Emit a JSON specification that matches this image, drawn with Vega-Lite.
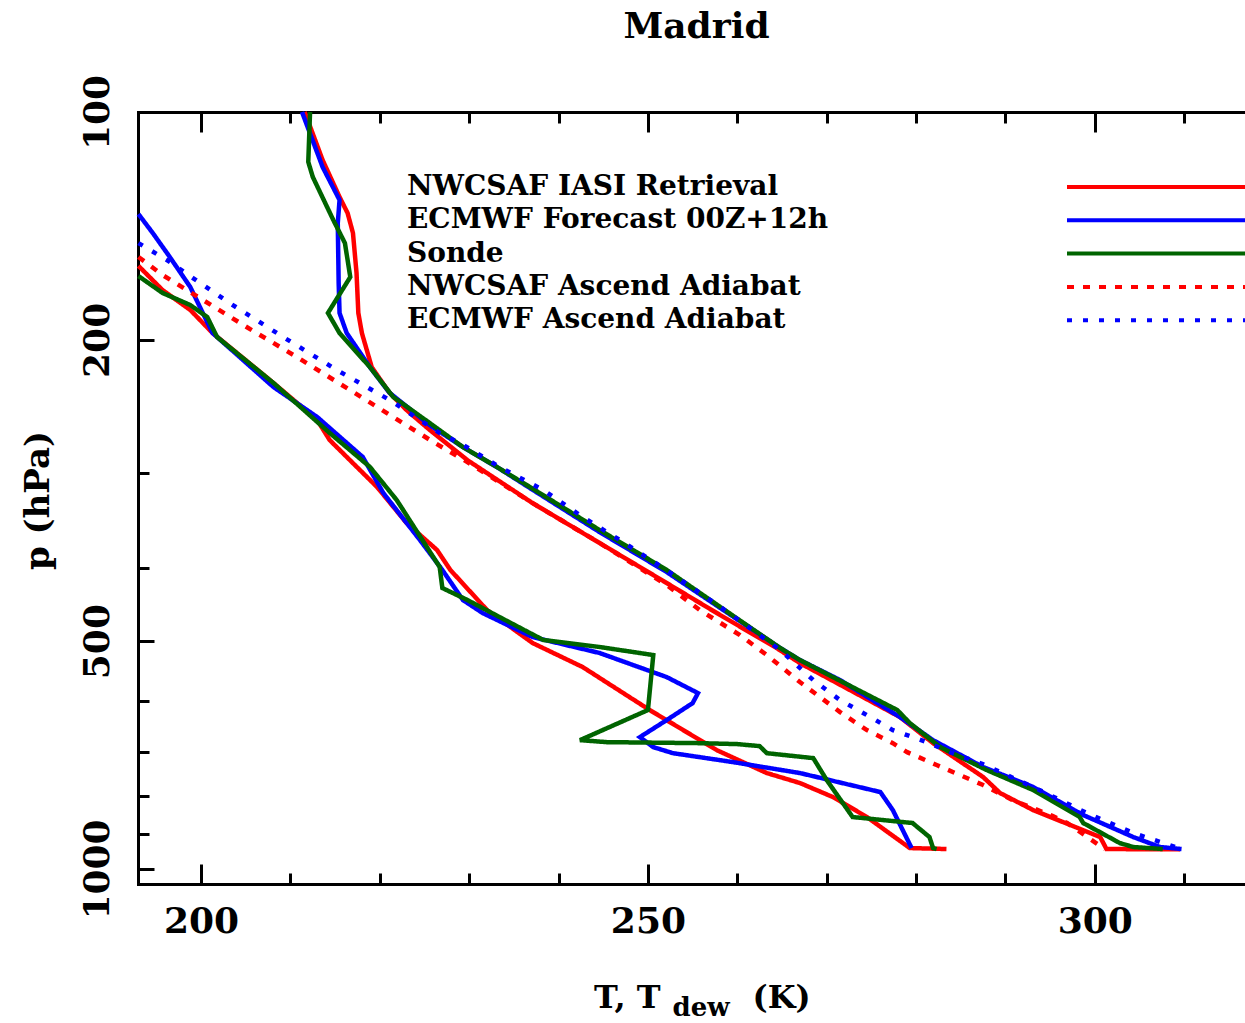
{
  "$schema": "https://vega.github.io/schema/vega-lite/v6.json",
  "width": 1107,
  "height": 772,
  "autosize": {"type": "none"},
  "padding": {"left": 138, "top": 112, "right": 0, "bottom": 139},
  "background": "white",
  "view": {"stroke": null},
  "title": {"text": "Madrid", "font": "DejaVu Serif", "fontWeight": "bold", "fontSize": 36, "color": "black", "anchor": "middle", "frame": "group", "baseline": "alphabetic", "offset": 0, "dx": 5},
  "data": {"values": [
    {"s": "NWCSAF IASI Retrieval", "v": "T", "T": 211.6, "p": 100},
    {"s": "NWCSAF IASI Retrieval", "v": "T", "T": 213.6, "p": 115.7},
    {"s": "NWCSAF IASI Retrieval", "v": "T", "T": 215.5, "p": 129.5},
    {"s": "NWCSAF IASI Retrieval", "v": "T", "T": 216.4, "p": 136.0},
    {"s": "NWCSAF IASI Retrieval", "v": "T", "T": 217.0, "p": 144.5},
    {"s": "NWCSAF IASI Retrieval", "v": "T", "T": 217.4, "p": 163.2},
    {"s": "NWCSAF IASI Retrieval", "v": "T", "T": 217.6, "p": 184.3},
    {"s": "NWCSAF IASI Retrieval", "v": "T", "T": 218.0, "p": 195.9},
    {"s": "NWCSAF IASI Retrieval", "v": "T", "T": 219.1, "p": 217.3},
    {"s": "NWCSAF IASI Retrieval", "v": "T", "T": 221.1, "p": 235.0},
    {"s": "NWCSAF IASI Retrieval", "v": "T", "T": 223.0, "p": 247.6},
    {"s": "NWCSAF IASI Retrieval", "v": "T", "T": 225.6, "p": 263.1},
    {"s": "NWCSAF IASI Retrieval", "v": "T", "T": 229.8, "p": 288.3},
    {"s": "NWCSAF IASI Retrieval", "v": "T", "T": 237.1, "p": 328.6},
    {"s": "NWCSAF IASI Retrieval", "v": "T", "T": 244.6, "p": 371.0},
    {"s": "NWCSAF IASI Retrieval", "v": "T", "T": 252.1, "p": 419.0},
    {"s": "NWCSAF IASI Retrieval", "v": "T", "T": 257.7, "p": 459.0},
    {"s": "NWCSAF IASI Retrieval", "v": "T", "T": 264.4, "p": 510.6},
    {"s": "NWCSAF IASI Retrieval", "v": "T", "T": 267.0, "p": 534.5},
    {"s": "NWCSAF IASI Retrieval", "v": "T", "T": 278.2, "p": 629.9},
    {"s": "NWCSAF IASI Retrieval", "v": "T", "T": 281.9, "p": 681.9},
    {"s": "NWCSAF IASI Retrieval", "v": "T", "T": 287.5, "p": 755.9},
    {"s": "NWCSAF IASI Retrieval", "v": "T", "T": 289.4, "p": 793.6},
    {"s": "NWCSAF IASI Retrieval", "v": "T", "T": 293.1, "p": 835.9},
    {"s": "NWCSAF IASI Retrieval", "v": "T", "T": 300.6, "p": 907.3},
    {"s": "NWCSAF IASI Retrieval", "v": "T", "T": 301.3, "p": 941},
    {"s": "NWCSAF IASI Retrieval", "v": "T", "T": 309.5, "p": 942},
    {"s": "NWCSAF IASI Retrieval", "v": "Td", "T": 193.0, "p": 159.7},
    {"s": "NWCSAF IASI Retrieval", "v": "Td", "T": 195.7, "p": 171.9},
    {"s": "NWCSAF IASI Retrieval", "v": "Td", "T": 198.8, "p": 182.6},
    {"s": "NWCSAF IASI Retrieval", "v": "Td", "T": 201.3, "p": 195.9},
    {"s": "NWCSAF IASI Retrieval", "v": "Td", "T": 208.1, "p": 228.0},
    {"s": "NWCSAF IASI Retrieval", "v": "Td", "T": 213.0, "p": 255.2},
    {"s": "NWCSAF IASI Retrieval", "v": "Td", "T": 214.4, "p": 271.3},
    {"s": "NWCSAF IASI Retrieval", "v": "Td", "T": 219.7, "p": 312.9},
    {"s": "NWCSAF IASI Retrieval", "v": "Td", "T": 223.0, "p": 349.1},
    {"s": "NWCSAF IASI Retrieval", "v": "Td", "T": 226.4, "p": 378.9},
    {"s": "NWCSAF IASI Retrieval", "v": "Td", "T": 227.9, "p": 402.7},
    {"s": "NWCSAF IASI Retrieval", "v": "Td", "T": 232.0, "p": 454.9},
    {"s": "NWCSAF IASI Retrieval", "v": "Td", "T": 237.1, "p": 502.9},
    {"s": "NWCSAF IASI Retrieval", "v": "Td", "T": 242.7, "p": 541.0},
    {"s": "NWCSAF IASI Retrieval", "v": "Td", "T": 250.2, "p": 616.6},
    {"s": "NWCSAF IASI Retrieval", "v": "Td", "T": 257.7, "p": 696.5},
    {"s": "NWCSAF IASI Retrieval", "v": "Td", "T": 263.3, "p": 746.8},
    {"s": "NWCSAF IASI Retrieval", "v": "Td", "T": 267.0, "p": 769.8},
    {"s": "NWCSAF IASI Retrieval", "v": "Td", "T": 270.7, "p": 803.4},
    {"s": "NWCSAF IASI Retrieval", "v": "Td", "T": 274.5, "p": 853.7},
    {"s": "NWCSAF IASI Retrieval", "v": "Td", "T": 279.3, "p": 938.2},
    {"s": "NWCSAF IASI Retrieval", "v": "Td", "T": 283.4, "p": 941},
    {"s": "ECMWF Forecast 00Z+12h", "v": "T", "T": 211.3, "p": 100},
    {"s": "ECMWF Forecast 00Z+12h", "v": "T", "T": 213.6, "p": 118.2},
    {"s": "ECMWF Forecast 00Z+12h", "v": "T", "T": 215.5, "p": 130.7},
    {"s": "ECMWF Forecast 00Z+12h", "v": "T", "T": 215.3, "p": 140.2},
    {"s": "ECMWF Forecast 00Z+12h", "v": "T", "T": 215.4, "p": 168.2},
    {"s": "ECMWF Forecast 00Z+12h", "v": "T", "T": 215.5, "p": 184.3},
    {"s": "ECMWF Forecast 00Z+12h", "v": "T", "T": 216.3, "p": 195.9},
    {"s": "ECMWF Forecast 00Z+12h", "v": "T", "T": 218.9, "p": 217.3},
    {"s": "ECMWF Forecast 00Z+12h", "v": "T", "T": 221.1, "p": 235.0},
    {"s": "ECMWF Forecast 00Z+12h", "v": "T", "T": 225.6, "p": 259.2},
    {"s": "ECMWF Forecast 00Z+12h", "v": "T", "T": 229.3, "p": 277.1},
    {"s": "ECMWF Forecast 00Z+12h", "v": "T", "T": 233.1, "p": 294.4},
    {"s": "ECMWF Forecast 00Z+12h", "v": "T", "T": 236.8, "p": 313.9},
    {"s": "ECMWF Forecast 00Z+12h", "v": "T", "T": 244.6, "p": 358.9},
    {"s": "ECMWF Forecast 00Z+12h", "v": "T", "T": 252.1, "p": 405.2},
    {"s": "ECMWF Forecast 00Z+12h", "v": "T", "T": 258.1, "p": 452.1},
    {"s": "ECMWF Forecast 00Z+12h", "v": "T", "T": 264.8, "p": 510.6},
    {"s": "ECMWF Forecast 00Z+12h", "v": "T", "T": 267.0, "p": 529.6},
    {"s": "ECMWF Forecast 00Z+12h", "v": "T", "T": 271.5, "p": 562.9},
    {"s": "ECMWF Forecast 00Z+12h", "v": "T", "T": 278.2, "p": 629.9},
    {"s": "ECMWF Forecast 00Z+12h", "v": "T", "T": 281.9, "p": 675.7},
    {"s": "ECMWF Forecast 00Z+12h", "v": "T", "T": 287.5, "p": 733.3},
    {"s": "ECMWF Forecast 00Z+12h", "v": "T", "T": 293.1, "p": 779.2},
    {"s": "ECMWF Forecast 00Z+12h", "v": "T", "T": 298.7, "p": 848.6},
    {"s": "ECMWF Forecast 00Z+12h", "v": "T", "T": 304.3, "p": 907.3},
    {"s": "ECMWF Forecast 00Z+12h", "v": "T", "T": 307.3, "p": 935.3},
    {"s": "ECMWF Forecast 00Z+12h", "v": "T", "T": 309.7, "p": 941},
    {"s": "ECMWF Forecast 00Z+12h", "v": "Td", "T": 193.0, "p": 136.4},
    {"s": "ECMWF Forecast 00Z+12h", "v": "Td", "T": 194.6, "p": 144.5},
    {"s": "ECMWF Forecast 00Z+12h", "v": "Td", "T": 196.5, "p": 155.4},
    {"s": "ECMWF Forecast 00Z+12h", "v": "Td", "T": 198.8, "p": 170.3},
    {"s": "ECMWF Forecast 00Z+12h", "v": "Td", "T": 200.2, "p": 184.3},
    {"s": "ECMWF Forecast 00Z+12h", "v": "Td", "T": 201.3, "p": 195.9},
    {"s": "ECMWF Forecast 00Z+12h", "v": "Td", "T": 208.1, "p": 230.8},
    {"s": "ECMWF Forecast 00Z+12h", "v": "Td", "T": 213.0, "p": 252.9},
    {"s": "ECMWF Forecast 00Z+12h", "v": "Td", "T": 218.1, "p": 285.6},
    {"s": "ECMWF Forecast 00Z+12h", "v": "Td", "T": 220.4, "p": 318.7},
    {"s": "ECMWF Forecast 00Z+12h", "v": "Td", "T": 224.5, "p": 367.7},
    {"s": "ECMWF Forecast 00Z+12h", "v": "Td", "T": 227.0, "p": 402.7},
    {"s": "ECMWF Forecast 00Z+12h", "v": "Td", "T": 229.3, "p": 441.2},
    {"s": "ECMWF Forecast 00Z+12h", "v": "Td", "T": 231.5, "p": 459.0},
    {"s": "ECMWF Forecast 00Z+12h", "v": "Td", "T": 237.1, "p": 493.8},
    {"s": "ECMWF Forecast 00Z+12h", "v": "Td", "T": 244.6, "p": 518.4},
    {"s": "ECMWF Forecast 00Z+12h", "v": "Td", "T": 252.1, "p": 557.8},
    {"s": "ECMWF Forecast 00Z+12h", "v": "Td", "T": 255.6, "p": 585.6},
    {"s": "ECMWF Forecast 00Z+12h", "v": "Td", "T": 255.0, "p": 603.7},
    {"s": "ECMWF Forecast 00Z+12h", "v": "Td", "T": 252.1, "p": 635.7},
    {"s": "ECMWF Forecast 00Z+12h", "v": "Td", "T": 249.1, "p": 669.5},
    {"s": "ECMWF Forecast 00Z+12h", "v": "Td", "T": 250.6, "p": 690.2},
    {"s": "ECMWF Forecast 00Z+12h", "v": "Td", "T": 252.8, "p": 703.0},
    {"s": "ECMWF Forecast 00Z+12h", "v": "Td", "T": 259.5, "p": 722.3},
    {"s": "ECMWF Forecast 00Z+12h", "v": "Td", "T": 267.0, "p": 746.8},
    {"s": "ECMWF Forecast 00Z+12h", "v": "Td", "T": 276.0, "p": 791.2},
    {"s": "ECMWF Forecast 00Z+12h", "v": "Td", "T": 277.4, "p": 835.9},
    {"s": "ECMWF Forecast 00Z+12h", "v": "Td", "T": 279.5, "p": 938.2},
    {"s": "Sonde", "v": "T", "T": 212.2, "p": 100},
    {"s": "Sonde", "v": "T", "T": 212.0, "p": 116.4},
    {"s": "Sonde", "v": "T", "T": 212.5, "p": 121.8},
    {"s": "Sonde", "v": "T", "T": 214.8, "p": 138.9},
    {"s": "Sonde", "v": "T", "T": 216.1, "p": 149.0},
    {"s": "Sonde", "v": "T", "T": 216.7, "p": 165.2},
    {"s": "Sonde", "v": "T", "T": 214.2, "p": 184.3},
    {"s": "Sonde", "v": "T", "T": 215.5, "p": 195.9},
    {"s": "Sonde", "v": "T", "T": 218.9, "p": 217.3},
    {"s": "Sonde", "v": "T", "T": 221.5, "p": 237.9},
    {"s": "Sonde", "v": "T", "T": 225.6, "p": 257.6},
    {"s": "Sonde", "v": "T", "T": 229.3, "p": 277.1},
    {"s": "Sonde", "v": "T", "T": 233.1, "p": 294.4},
    {"s": "Sonde", "v": "T", "T": 236.8, "p": 312.9},
    {"s": "Sonde", "v": "T", "T": 244.6, "p": 356.7},
    {"s": "Sonde", "v": "T", "T": 252.1, "p": 402.7},
    {"s": "Sonde", "v": "T", "T": 258.1, "p": 450.7},
    {"s": "Sonde", "v": "T", "T": 264.8, "p": 510.6},
    {"s": "Sonde", "v": "T", "T": 267.0, "p": 529.6},
    {"s": "Sonde", "v": "T", "T": 270.7, "p": 557.8},
    {"s": "Sonde", "v": "T", "T": 277.9, "p": 616.6},
    {"s": "Sonde", "v": "T", "T": 279.3, "p": 641.5},
    {"s": "Sonde", "v": "T", "T": 282.7, "p": 690.2},
    {"s": "Sonde", "v": "T", "T": 287.9, "p": 740.0},
    {"s": "Sonde", "v": "T", "T": 293.1, "p": 786.4},
    {"s": "Sonde", "v": "T", "T": 298.3, "p": 853.7},
    {"s": "Sonde", "v": "T", "T": 298.7, "p": 869.4},
    {"s": "Sonde", "v": "T", "T": 302.8, "p": 924.1},
    {"s": "Sonde", "v": "T", "T": 304.3, "p": 935.3},
    {"s": "Sonde", "v": "T", "T": 307.6, "p": 941},
    {"s": "Sonde", "v": "Td", "T": 193.0, "p": 164.7},
    {"s": "Sonde", "v": "Td", "T": 195.7, "p": 173.4},
    {"s": "Sonde", "v": "Td", "T": 198.8, "p": 179.9},
    {"s": "Sonde", "v": "Td", "T": 200.7, "p": 186.6},
    {"s": "Sonde", "v": "Td", "T": 201.8, "p": 198.3},
    {"s": "Sonde", "v": "Td", "T": 208.1, "p": 228.0},
    {"s": "Sonde", "v": "Td", "T": 214.4, "p": 265.5},
    {"s": "Sonde", "v": "Td", "T": 218.9, "p": 294.4},
    {"s": "Sonde", "v": "Td", "T": 221.9, "p": 325.6},
    {"s": "Sonde", "v": "Td", "T": 226.7, "p": 399.0},
    {"s": "Sonde", "v": "Td", "T": 227.0, "p": 425.4},
    {"s": "Sonde", "v": "Td", "T": 229.8, "p": 441.2},
    {"s": "Sonde", "v": "Td", "T": 233.4, "p": 464.7},
    {"s": "Sonde", "v": "Td", "T": 238.3, "p": 498.3},
    {"s": "Sonde", "v": "Td", "T": 244.6, "p": 509.0},
    {"s": "Sonde", "v": "Td", "T": 250.6, "p": 521.6},
    {"s": "Sonde", "v": "Td", "T": 250.0, "p": 616.6},
    {"s": "Sonde", "v": "Td", "T": 242.4, "p": 675.7},
    {"s": "Sonde", "v": "Td", "T": 245.4, "p": 679.8},
    {"s": "Sonde", "v": "Td", "T": 255.8, "p": 681.9},
    {"s": "Sonde", "v": "Td", "T": 260.0, "p": 683.9},
    {"s": "Sonde", "v": "Td", "T": 262.5, "p": 688.1},
    {"s": "Sonde", "v": "Td", "T": 263.3, "p": 703.0},
    {"s": "Sonde", "v": "Td", "T": 268.5, "p": 713.7},
    {"s": "Sonde", "v": "Td", "T": 270.0, "p": 762.8},
    {"s": "Sonde", "v": "Td", "T": 272.9, "p": 853.7},
    {"s": "Sonde", "v": "Td", "T": 279.6, "p": 869.4},
    {"s": "Sonde", "v": "Td", "T": 281.5, "p": 907.3},
    {"s": "Sonde", "v": "Td", "T": 281.9, "p": 938.2},
    {"s": "Sonde", "v": "Td", "T": 282.3, "p": 941},
    {"s": "NWCSAF Ascend Adiabat", "v": "A", "T": 193.0, "p": 155.4},
    {"s": "NWCSAF Ascend Adiabat", "v": "A", "T": 195.7, "p": 164.2},
    {"s": "NWCSAF Ascend Adiabat", "v": "A", "T": 200.2, "p": 177.1},
    {"s": "NWCSAF Ascend Adiabat", "v": "A", "T": 205.1, "p": 192.3},
    {"s": "NWCSAF Ascend Adiabat", "v": "A", "T": 211.1, "p": 212.0},
    {"s": "NWCSAF Ascend Adiabat", "v": "A", "T": 218.1, "p": 238.7},
    {"s": "NWCSAF Ascend Adiabat", "v": "A", "T": 226.0, "p": 272.9},
    {"s": "NWCSAF Ascend Adiabat", "v": "A", "T": 229.8, "p": 290.0},
    {"s": "NWCSAF Ascend Adiabat", "v": "A", "T": 237.1, "p": 328.6},
    {"s": "NWCSAF Ascend Adiabat", "v": "A", "T": 244.6, "p": 371.0},
    {"s": "NWCSAF Ascend Adiabat", "v": "A", "T": 252.1, "p": 421.5},
    {"s": "NWCSAF Ascend Adiabat", "v": "A", "T": 255.8, "p": 454.9},
    {"s": "NWCSAF Ascend Adiabat", "v": "A", "T": 260.3, "p": 490.9},
    {"s": "NWCSAF Ascend Adiabat", "v": "A", "T": 263.3, "p": 521.6},
    {"s": "NWCSAF Ascend Adiabat", "v": "A", "T": 267.0, "p": 566.2},
    {"s": "NWCSAF Ascend Adiabat", "v": "A", "T": 271.5, "p": 620.4},
    {"s": "NWCSAF Ascend Adiabat", "v": "A", "T": 274.5, "p": 655.4},
    {"s": "NWCSAF Ascend Adiabat", "v": "A", "T": 277.4, "p": 681.9},
    {"s": "NWCSAF Ascend Adiabat", "v": "A", "T": 279.0, "p": 700.8},
    {"s": "NWCSAF Ascend Adiabat", "v": "A", "T": 282.3, "p": 728.8},
    {"s": "NWCSAF Ascend Adiabat", "v": "A", "T": 287.5, "p": 774.5},
    {"s": "NWCSAF Ascend Adiabat", "v": "A", "T": 290.8, "p": 810.8},
    {"s": "NWCSAF Ascend Adiabat", "v": "A", "T": 295.3, "p": 851.1},
    {"s": "NWCSAF Ascend Adiabat", "v": "A", "T": 296.9, "p": 869.4},
    {"s": "NWCSAF Ascend Adiabat", "v": "A", "T": 301.1, "p": 941},
    {"s": "ECMWF Ascend Adiabat", "v": "A", "T": 193.0, "p": 149.0},
    {"s": "ECMWF Ascend Adiabat", "v": "A", "T": 196.2, "p": 156.9},
    {"s": "ECMWF Ascend Adiabat", "v": "A", "T": 199.1, "p": 165.7},
    {"s": "ECMWF Ascend Adiabat", "v": "A", "T": 203.2, "p": 178.8},
    {"s": "ECMWF Ascend Adiabat", "v": "A", "T": 209.2, "p": 198.3},
    {"s": "ECMWF Ascend Adiabat", "v": "A", "T": 215.2, "p": 219.2},
    {"s": "ECMWF Ascend Adiabat", "v": "A", "T": 221.1, "p": 240.1},
    {"s": "ECMWF Ascend Adiabat", "v": "A", "T": 226.7, "p": 265.5},
    {"s": "ECMWF Ascend Adiabat", "v": "A", "T": 229.0, "p": 273.8},
    {"s": "ECMWF Ascend Adiabat", "v": "A", "T": 233.4, "p": 294.4},
    {"s": "ECMWF Ascend Adiabat", "v": "A", "T": 238.3, "p": 315.8},
    {"s": "ECMWF Ascend Adiabat", "v": "A", "T": 242.7, "p": 342.8},
    {"s": "ECMWF Ascend Adiabat", "v": "A", "T": 247.2, "p": 369.8},
    {"s": "ECMWF Ascend Adiabat", "v": "A", "T": 251.7, "p": 400.2},
    {"s": "ECMWF Ascend Adiabat", "v": "A", "T": 258.1, "p": 450.7},
    {"s": "ECMWF Ascend Adiabat", "v": "A", "T": 264.8, "p": 513.7},
    {"s": "ECMWF Ascend Adiabat", "v": "A", "T": 268.5, "p": 562.9},
    {"s": "ECMWF Ascend Adiabat", "v": "A", "T": 271.5, "p": 598.3},
    {"s": "ECMWF Ascend Adiabat", "v": "A", "T": 274.5, "p": 626.1},
    {"s": "ECMWF Ascend Adiabat", "v": "A", "T": 277.4, "p": 655.4},
    {"s": "ECMWF Ascend Adiabat", "v": "A", "T": 281.2, "p": 679.8},
    {"s": "ECMWF Ascend Adiabat", "v": "A", "T": 283.8, "p": 700.8},
    {"s": "ECMWF Ascend Adiabat", "v": "A", "T": 287.7, "p": 728.8},
    {"s": "ECMWF Ascend Adiabat", "v": "A", "T": 293.8, "p": 786.4},
    {"s": "ECMWF Ascend Adiabat", "v": "A", "T": 299.1, "p": 843.5},
    {"s": "ECMWF Ascend Adiabat", "v": "A", "T": 304.3, "p": 896.3},
    {"s": "ECMWF Ascend Adiabat", "v": "A", "T": 309.7, "p": 941}
  ]},
  "layer": [
    {
      "mark": {"type": "line", "strokeWidth": 4.5},
      "encoding": {
        "x": {"field": "T", "type": "quantitative",
          "scale": {"domain": [192.95, 316.8], "nice": false, "zero": false},
          "axis": {"orient": "bottom", "values": [200, 250, 300], "format": "d", "grid": false,
            "tickSize": -20, "tickWidth": 3, "tickColor": "black", "domainWidth": 3, "domainColor": "black", "domainCap": "square",
            "labelFont": "DejaVu Serif", "labelFontWeight": "bold", "labelFontSize": 36, "labelColor": "black", "labelPadding": 40, "labelFlush": false, "labelOverlap": false,
            "title": "T, T", "titleFont": "DejaVu Serif", "titleFontWeight": "bold", "titleFontSize": 32, "titleColor": "black",
            "titleX": 522, "titleY": 123, "titleAlign": "right", "titleBaseline": "alphabetic", "titleAngle": 0}},
        "y": {"field": "p", "type": "quantitative",
          "scale": {"type": "log", "domain": [100, 1046.6], "nice": false, "reverse": true},
          "axis": {"orient": "left", "values": [100, 200, 500, 1000], "format": "d", "grid": false,
            "tickSize": -16, "tickWidth": 3, "tickColor": "black", "domainWidth": 3, "domainColor": "black", "domainCap": "square",
            "labelFont": "DejaVu Serif", "labelFontWeight": "bold", "labelFontSize": 36, "labelColor": "black", "labelAngle": 270, "labelAlign": "center", "labelBaseline": "bottom", "labelPadding": 38, "labelFlush": false, "labelOverlap": false,
            "title": "p (hPa)", "titleFont": "DejaVu Serif", "titleFontWeight": "bold", "titleFontSize": 34, "titleColor": "black",
            "titleX": -100, "titleY": 388, "titleAngle": 270, "titleAlign": "center", "titleBaseline": "middle"}},
        "color": {"field": "s", "type": "nominal",
          "scale": {"domain": ["NWCSAF IASI Retrieval", "ECMWF Forecast 00Z+12h", "Sonde", "NWCSAF Ascend Adiabat", "ECMWF Ascend Adiabat"],
                    "range": ["#ff0000", "#0000ff", "#006400", "#ff0000", "#0000ff"]},
          "legend": {"orient": "none", "legendX": 1015, "legendY": 61, "direction": "vertical", "columns": 1, "title": null,
            "symbolType": "M-10,0H10", "symbolSize": 400, "symbolStrokeWidth": 4, "rowPadding": 5.3, "padding": 0,
            "labelFont": "DejaVu Serif", "labelFontWeight": "bold", "labelFontSize": 28, "labelColor": "black", "labelOffset": -774, "labelLimit": 0}},
        "strokeDash": {"field": "s", "type": "nominal",
          "scale": {"domain": ["NWCSAF IASI Retrieval", "ECMWF Forecast 00Z+12h", "Sonde", "NWCSAF Ascend Adiabat", "ECMWF Ascend Adiabat"],
                    "range": [[1, 0], [1, 0], [1, 0], [7, 9], [5, 11]]},
          "legend": {"orient": "none", "legendX": 1015, "legendY": 61, "direction": "vertical", "columns": 1, "title": null,
            "symbolType": "M-10,0H10", "symbolSize": 400, "symbolStrokeWidth": 4, "rowPadding": 5.3, "padding": 0,
            "labelFont": "DejaVu Serif", "labelFontWeight": "bold", "labelFontSize": 28, "labelColor": "black", "labelOffset": -774, "labelLimit": 0}},
        "detail": {"field": "v"},
        "order": {"field": "p", "type": "quantitative"}
      }
    },
    {
      "mark": {"type": "point", "opacity": 0},
      "encoding": {
        "x": {"field": "T", "type": "quantitative",
          "axis": {"orient": "bottom", "values": [210, 220, 230, 240, 260, 270, 280, 290, 310], "grid": false, "labels": false, "domain": false,
            "tickSize": -11, "tickWidth": 3, "tickColor": "black",
            "title": "dew", "titleFont": "DejaVu Serif", "titleFontWeight": "bold", "titleFontSize": 26, "titleColor": "black",
            "titleX": 534, "titleY": 131, "titleAlign": "left", "titleBaseline": "alphabetic", "titleAngle": 0}},
        "y": {"field": "p", "type": "quantitative",
          "axis": {"orient": "left", "values": [300, 400, 600, 700, 800, 900], "grid": false, "labels": false, "domain": false,
            "tickSize": -11, "tickWidth": 3, "tickColor": "black", "title": null}}
      }
    },
    {
      "mark": {"type": "point", "opacity": 0},
      "encoding": {
        "x": {"field": "T", "type": "quantitative",
          "axis": {"orient": "top", "values": [200, 250, 300], "grid": false, "labels": false,
            "tickSize": -20, "tickWidth": 3, "tickColor": "black", "domainWidth": 3, "domainColor": "black", "domainCap": "square", "title": null}},
        "y": {"field": "p", "type": "quantitative", "axis": null}
      }
    },
    {
      "mark": {"type": "point", "opacity": 0},
      "encoding": {
        "x": {"field": "T", "type": "quantitative",
          "axis": {"orient": "top", "values": [210, 220, 230, 240, 260, 270, 280, 290, 310], "grid": false, "labels": false, "domain": false,
            "tickSize": -11, "tickWidth": 3, "tickColor": "black",
            "title": "(K)", "titleFont": "DejaVu Serif", "titleFontWeight": "bold", "titleFontSize": 32, "titleColor": "black",
            "titleX": 614, "titleY": 895, "titleAlign": "left", "titleBaseline": "alphabetic", "titleAngle": 0}},
        "y": {"field": "p", "type": "quantitative", "axis": null}
      }
    }
  ],
  "resolve": {"axis": {"x": "independent", "y": "independent"}}
}
